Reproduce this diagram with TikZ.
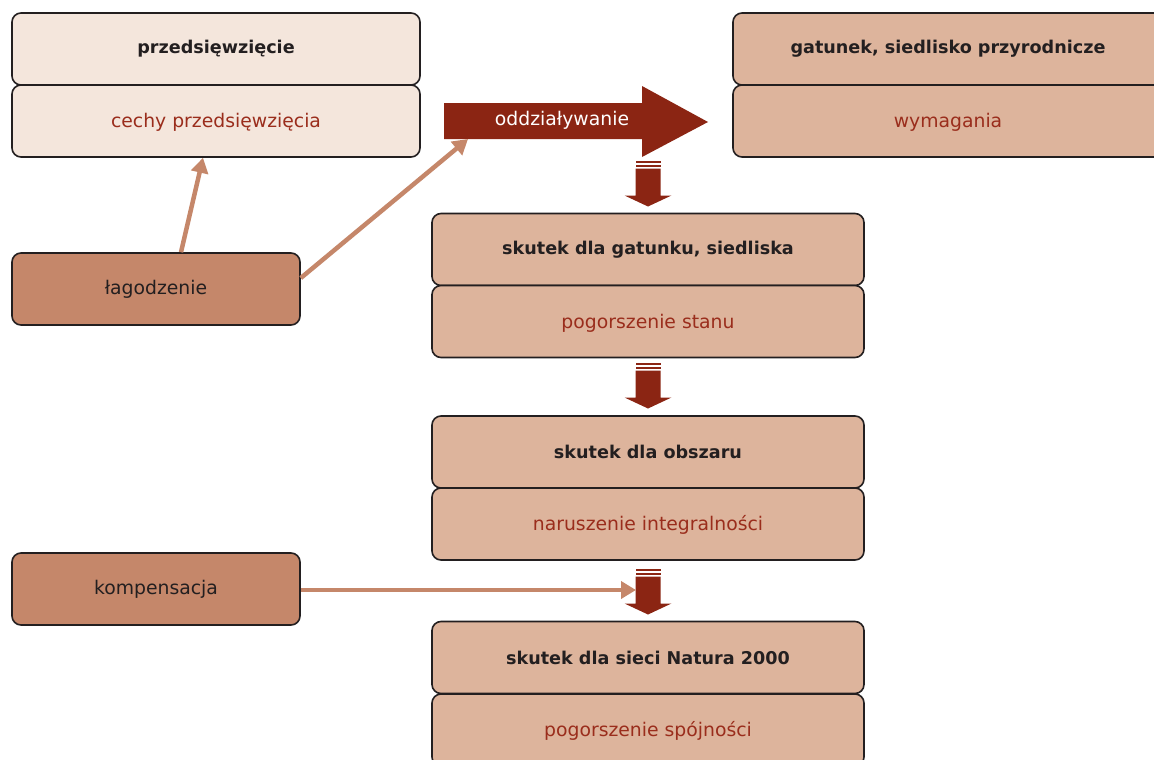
\documentclass[tikz,border=0pt]{standalone}
\usepackage{fontspec}
\setmainfont{DejaVu Sans}
\usetikzlibrary{arrows.meta,calc}
\definecolor{lightf}{HTML}{F4E6DC}
\definecolor{tanf}{HTML}{DDB49C}
\definecolor{darkf}{HTML}{C5876A}
\definecolor{redf}{HTML}{8B2513}
\definecolor{redt}{HTML}{9A2D1C}
\definecolor{edge}{HTML}{231F20}
\begin{document}
\begin{tikzpicture}[x=1pt,y=-1pt,
  box/.style={draw=edge, line width=1.6pt, rounded corners=9pt, minimum height=72pt, inner sep=0pt, text=edge},
  hd/.style={font=\fontsize{17.6}{20}\selectfont\bfseries},
  sub/.style={font=\fontsize{18.8}{21}\selectfont, text=redt, text height=16pt, text depth=3pt},
  act/.style={font=\fontsize{18.8}{21}\selectfont},
  conn/.style={draw=darkf, line width=4.5pt, -{Triangle[length=15pt,width=17pt]}},
  darr/.pic={
    \fill[redf] (-12.5,0) rectangle (12.5,2.2);
    \fill[redf] (-12.5,4) rectangle (12.5,6);
    \fill[redf] (-12.5,7.5) -- (12.5,7.5) -- (12.5,34.5) -- (23.5,34.5) -- (0,45.5) -- (-23.5,34.5) -- (-12.5,34.5) -- cycle;
  }
]
\useasboundingbox (0,0) rectangle (1154,760);
% top-left
\node[box, fill=lightf, minimum width=408pt, hd] (prz) at (216,49) {przedsięwzięcie};
\node[box, fill=lightf, minimum width=408pt, sub] (cech) at (216,121) {cechy przedsięwzięcia};
% top-right
\node[box, fill=tanf, minimum width=430pt, hd] (gat) at (948,49) {gatunek, siedlisko przyrodnicze};
\node[box, fill=tanf, minimum width=430pt, sub] (wym) at (948,121) {wymagania};
% left actions
\node[box, fill=darkf, minimum width=288pt, act] (lag) at (156,289) {łagodzenie};
\node[box, fill=darkf, minimum width=288pt, act] (komp) at (156,589) {kompensacja};
% middle column
\node[box, fill=tanf, minimum width=432pt, hd] (s1) at (648,249.5) {skutek dla gatunku, siedliska};
\node[box, fill=tanf, minimum width=432pt, sub] (s1b) at (648,321.5) {pogorszenie stanu};
\node[box, fill=tanf, minimum width=432pt, hd] (s2) at (648,452) {skutek dla obszaru};
\node[box, fill=tanf, minimum width=432pt, sub] (s2b) at (648,524) {naruszenie integralności};
\node[box, fill=tanf, minimum width=432pt, hd] (s3) at (648,657.5) {skutek dla sieci Natura 2000};
\node[box, fill=tanf, minimum width=432pt, sub] (s3b) at (648,730) {pogorszenie spójności};
% big arrow
\fill[redf] (444,103) -- (642,103) -- (642,86) -- (708,122) -- (642,157) -- (642,139) -- (444,139) -- cycle;
\node[font=\fontsize{18.8}{21}\selectfont, text=white, minimum height=36pt, inner sep=0pt] (odd) at (562,120) {oddziaływanie};
\coordinate (oddsw) at (444,139);
% small down arrows
\pic at (648,161) {darr};
\pic at (648,363) {darr};
\pic at (648,569) {darr};
% connectors
\coordinate (kend) at (636,590);
\draw[conn] ([xshift=25pt]lag.north) -- ([xshift=-13pt]cech.south);
\draw[conn] ([yshift=11pt]lag.east) -- ([xshift=24pt]oddsw);
\draw[conn] (komp.east |- kend) -- (kend);
\end{tikzpicture}
\end{document}
